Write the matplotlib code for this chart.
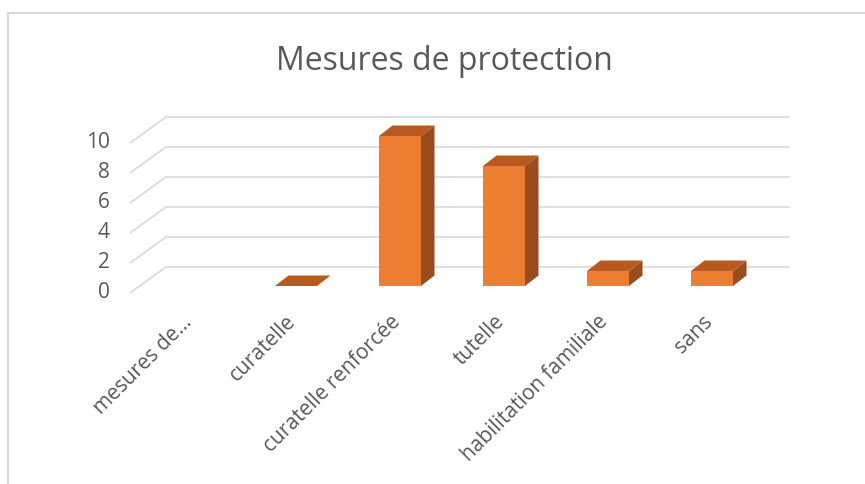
import matplotlib

matplotlib.use("Agg")
import matplotlib.pyplot as plt
import numpy as np
from matplotlib.lines import Line2D

categories = ["mesures de…", "curatelle", "curatelle renforcée", "tutelle",
              "habilitation familiale", "sans"]
values = [np.nan, 0, 10, 8, 1, 1]   # first category is empty
y_ticks = [0, 2, 4, 6, 8, 10]
title = "Mesures de protection"

FRONT = "#ED7D31"
TOP = "#B65A20"
SIDE = "#9A4D1C"
GRID = "#D9D9D9"
TEXT = "#595959"

W, H = 865, 484
PX_X = 1 / 104   # data units per pixel, horizontal (one category slot = 104 px)
PX_Y = 1 / 15    # data units per pixel, vertical (one unit = 15 px)

# oblique depth offsets, relative to the plane of the bar fronts
FLOOR_DX, FLOOR_DY = -10 * PX_X, -7 * PX_Y
BACK_DX, BACK_DY = 26 * PX_X, 19 * PX_Y
BAR_DX, BAR_DY = 13.5 * PX_X, 10.5 * PX_Y
BAR_W = 42 * PX_X

plt.rcParams["font.family"] = ["Open Sans", "DejaVu Sans"]

fig = plt.figure(figsize=(W / 100, H / 100), dpi=100)
fig.patch.set_facecolor("white")
ax = fig.add_axes([140 / W, (H - 286) / H, 624 / W, 150 / H])
ax.set_xlim(-0.5, 5.5)
ax.set_ylim(0, 10)
ax.axis("off")

# floor-to-back-wall gridlines
x0 = -0.5
x1 = len(categories) - 0.5
for v in y_ticks:
    ax.plot([x0 + FLOOR_DX, x0 + BACK_DX, x1 + BACK_DX],
            [v + FLOOR_DY, v + BACK_DY, v + BACK_DY],
            color=GRID, lw=1.2, zorder=1, clip_on=False, solid_capstyle="butt")
    ax.text(x0 + FLOOR_DX - 20 * PX_X, v + FLOOR_DY, str(v), ha="right",
            va="center", fontsize=15, color=TEXT)

# 3d-looking columns: front from ax.bar, top and side as parallelograms
xs = np.arange(len(categories))
for x, v in zip(xs, values):
    if np.isnan(v):
        continue
    left, right = x - BAR_W / 2, x + BAR_W / 2
    ax.bar(x, v, width=BAR_W, color=FRONT, linewidth=0, zorder=3)
    ax.fill([right, right + BAR_DX, right + BAR_DX, right],
            [0, BAR_DY, v + BAR_DY, v], color=SIDE, lw=0, zorder=3, clip_on=False)
    ax.fill([left, right, right + BAR_DX, left + BAR_DX],
            [v, v, v + BAR_DY, v + BAR_DY], color=TOP, lw=0, zorder=3, clip_on=False)

# rotated category labels under the floor
for x, lab in zip(xs, categories):
    ax.text(x - 0.1, -1.7, lab, rotation=45, rotation_mode="anchor",
            ha="right", va="top", fontsize=15, color=TEXT)

fig.text(444 / W, (H - 70) / H, title, ha="center", va="baseline",
         fontsize=23, color=TEXT)

# chart-area frame (only top and left edges fall inside the image)
fig.add_artist(Line2D([8 / W, 1], [(H - 13) / H] * 2, color=GRID, lw=1.5,
                      transform=fig.transFigure))
fig.add_artist(Line2D([8 / W] * 2, [0, (H - 13) / H], color=GRID, lw=1.5,
                      transform=fig.transFigure))

fig.savefig("out.png", dpi=100)
